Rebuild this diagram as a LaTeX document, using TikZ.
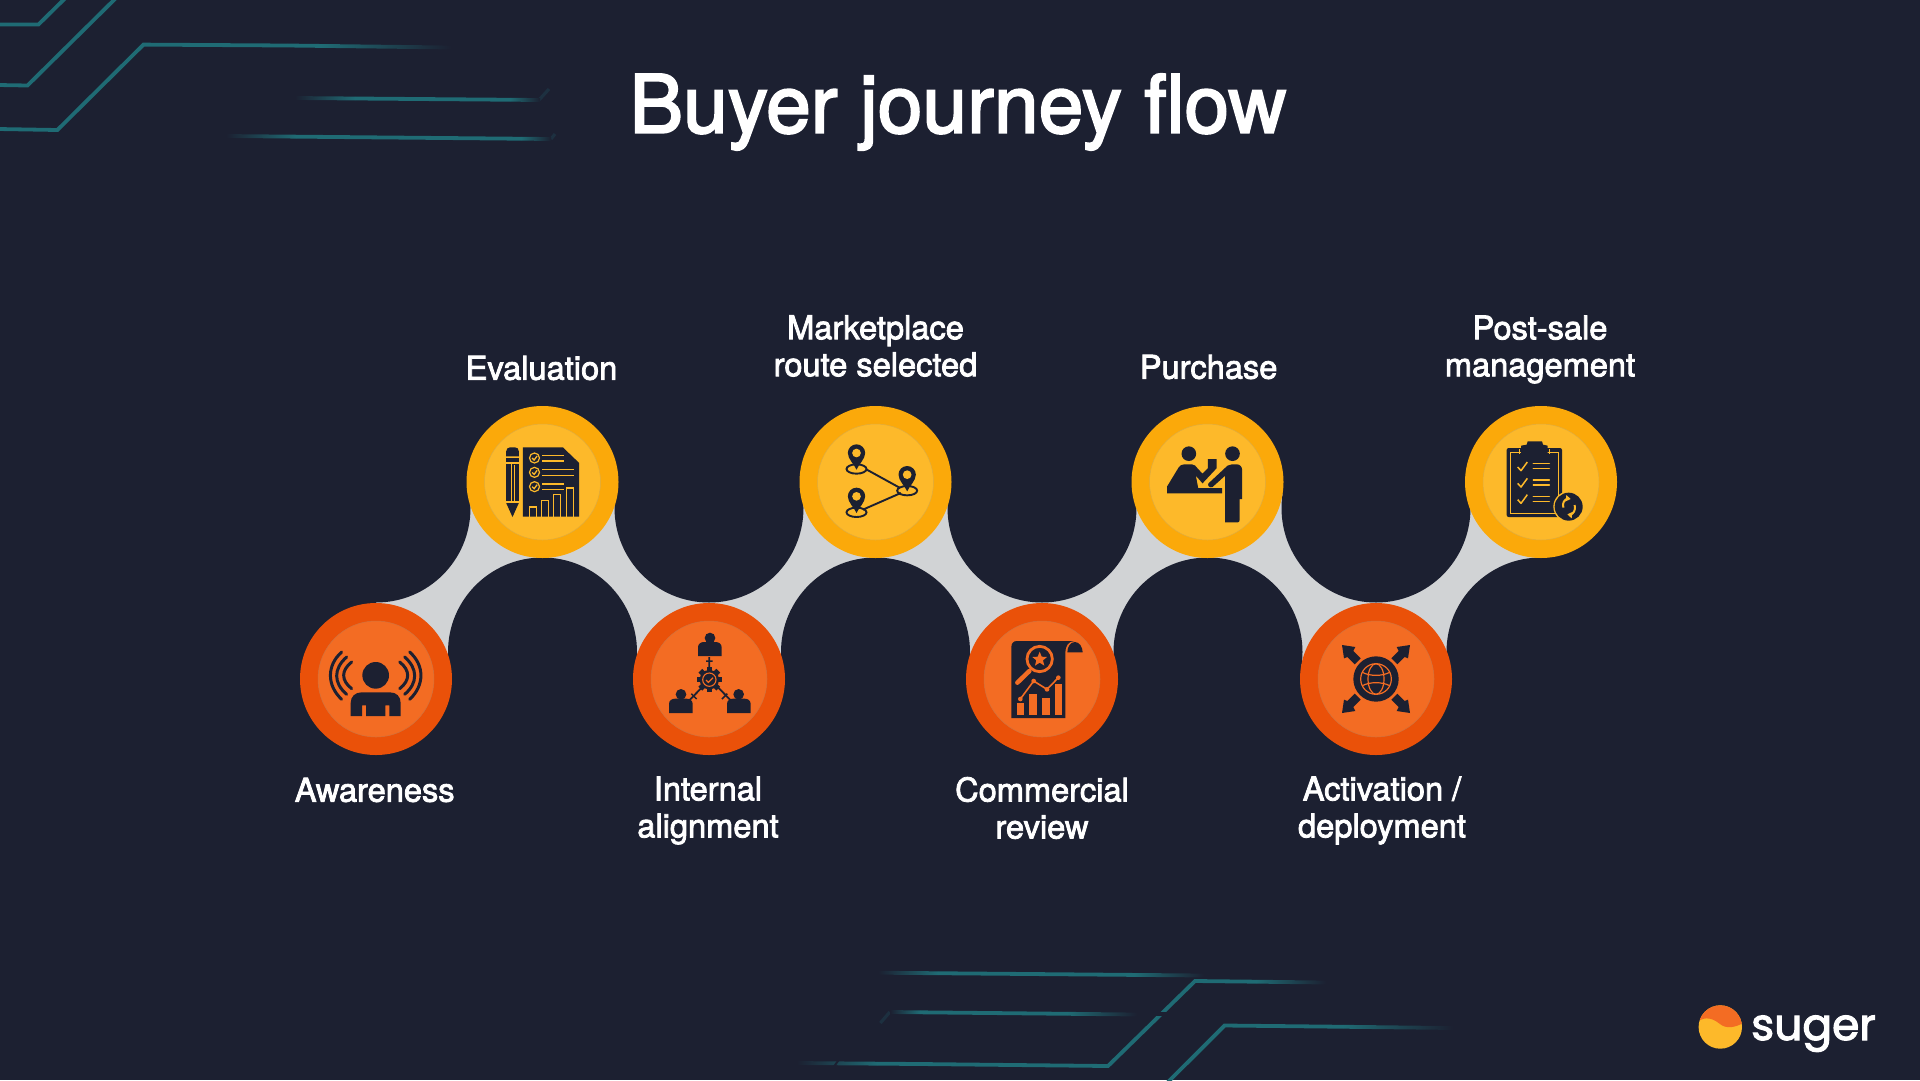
\documentclass[tikz,border=0pt]{standalone}
\usepackage{fontspec}
\setmainfont{TeX Gyre Heros}
\newfontfamily\medfont[FakeBold=2.5]{TeX Gyre Heros}
\newfontfamily\logofont[FakeBold=2.5]{Poppins}
\usetikzlibrary{calc}
\definecolor{bgc}{HTML}{1C2031}
\definecolor{greyc}{HTML}{D1D3D5}
\definecolor{orangeA}{HTML}{EA5109}
\definecolor{orangeB}{HTML}{F36C23}
\definecolor{yellowA}{HTML}{FBA90A}
\definecolor{yellowB}{HTML}{FDB92A}
\definecolor{tealc}{HTML}{1F6B74}
\tikzset{
  stepO/.style={circle,fill=orangeA,minimum size=152pt,inner sep=0pt,outer sep=0pt},
  stepY/.style={circle,fill=yellowA,minimum size=152pt,inner sep=0pt,outer sep=0pt},
  innerO/.style={circle,fill=orangeB,draw=orangeB!70!gray,line width=.5pt,minimum size=116pt,inner sep=0pt},
  innerY/.style={circle,fill=yellowB,draw=yellowB!75!gray,line width=.5pt,minimum size=116pt,inner sep=0pt},
  dip/.style={fill=bgc},
  band/.style={fill=greyc},
  lbl/.style={text=white,font=\medfont\fontsize{32.6}{37}\selectfont,align=center,inner sep=0pt},
  tline/.style={draw=tealc,line width=3.8pt,miter limit=10},
  tfaint/.style={draw=tealc!22!bgc,line width=3.2pt},
  zoomframe/.style n args={3}{shift={(#1.center)},x=.33333pt,y=-.33333pt,shift={(-#2,-#3)}},
  ink/.style={fill=bgc},
  inkl/.style={draw=bgc,line cap=round},
}
\newcommand\tband[6]{%
  \pgfmathsetmacro\tbxa{#1+#5}\pgfmathsetmacro\tbxb{#3-#6}%
  \pgfmathsetmacro\tbya{#2+(#4-#2)*#5/(#3-#1)}\pgfmathsetmacro\tbyb{#4-(#4-#2)*#6/(#3-#1)}%
  \ifdim#5pt>0pt \shade[left color=bgc,right color=tealc] (#1,#2-1.9)--(\tbxa,\tbya-1.9)--(\tbxa,\tbya+1.9)--(#1,#2+1.9)--cycle;\fi
  \fill[tealc] (\tbxa,\tbya-1.9)--(\tbxb,\tbyb-1.9)--(\tbxb,\tbyb+1.9)--(\tbxa,\tbya+1.9)--cycle;
  \ifdim#6pt>0pt \shade[left color=tealc,right color=bgc] (\tbxb,\tbyb-1.9)--(#3,#4-1.9)--(#3,#4+1.9)--(\tbxb,\tbyb+1.9)--cycle;\fi
}
\begin{document}
\begin{tikzpicture}[x=1pt,y=-1pt]
\useasboundingbox (0,0) rectangle (1920,1080);
\fill[bgc] (0,0) rectangle (1920,1080);
% decorative teal circuit lines
\draw[tline] (-2,24.5)--(38.5,24.5)--(65.4,-2);
\draw[tline] (-2,85)--(27.5,85.5)--(116,-2);
\draw[tline] (-2,129)--(57.4,130)--(143.5,44.6)--(287,45.5);
\tband{287}{45.5}{451}{47.5}{0}{130}
\draw[tfaint] (539,100)--(549,89);
\tband{295}{98}{540}{100}{60}{30}
\draw[tfaint] (551,139)--(555,134);
\tband{226}{136}{551}{139}{70}{30}
\tband{878}{972.7}{1204}{975.5}{60}{70}
\draw[tfaint] (880.4,1023)--(889.8,1012);
\tband{890}{1012}{1137}{1014.5}{30}{70}
\draw[tline] (1168,1082)--(1224.6,1025.5)--(1320,1026.5);
\tband{1320}{1026.5}{1453}{1028}{0}{110}
\tband{797}{1063}{920}{1064}{80}{0}
\draw[tline] (920,1064)--(1108,1066)--(1195,981)--(1240,981.5);
\tband{1240}{981.5}{1326}{982.5}{0}{70}
\fill[bgc] (1150,1012) rectangle (1175,1016);
\draw[bgc,line width=2pt] (833,1068)--(840,1058);
% nodes placement
\coordinate (u1) at (376,508); \coordinate (u2) at (709,508);
\coordinate (u3) at (1042,508); \coordinate (u4) at (1376,508);
\coordinate (d1) at (542.5,652); \coordinate (d2) at (875.5,652);
\coordinate (d3) at (1208,652); \coordinate (d4) at (1541,652);
\coordinate (pa) at (376,679); \coordinate (pb) at (542.5,482);
\coordinate (pc) at (709,679); \coordinate (pd) at (875.5,482);
\coordinate (pe) at (1042,679); \coordinate (pf) at (1207.5,482);
\coordinate (pg) at (1376,679); \coordinate (ph) at (1541,482);
% connecting band
\fill[band] (pa)--(u1)--(pb)--(d1)--cycle;
\fill[band] (pb)--(u2)--(pc)--(d1)--cycle;
\fill[band] (pc)--(u2)--(pd)--(d2)--cycle;
\fill[band] (pd)--(u3)--(pe)--(d2)--cycle;
\fill[band] (pe)--(u3)--(pf)--(d3)--cycle;
\fill[band] (pf)--(u4)--(pg)--(d3)--cycle;
\fill[band] (pg)--(u4)--(ph)--(d4)--cycle;
\foreach \c in {u1,u2,u3,u4,d1,d2,d3,d4} \fill[dip] (\c) circle [radius=94.5pt];
% step circles
\node[stepO] (awareness) at (pa) {}; \node[innerO] (awarenessIn) at (pa) {};
\node[stepY] (evaluation) at (pb) {}; \node[innerY] (evaluationIn) at (pb) {};
\node[stepO] (internal) at (pc) {}; \node[innerO] (internalIn) at (pc) {};
\node[stepY] (marketplace) at (pd) {}; \node[innerY] (marketplaceIn) at (pd) {};
\node[stepO] (commercial) at (pe) {}; \node[innerO] (commercialIn) at (pe) {};
\node[stepY] (purchase) at (pf) {}; \node[innerY] (purchaseIn) at (pf) {};
\node[stepO] (activation) at (pg) {}; \node[innerO] (activationIn) at (pg) {};
\node[stepY] (postsale) at (ph) {}; \node[innerY] (postsaleIn) at (ph) {};
% icon: awareness
\begin{scope}[zoomframe={awareness}{288}{866}]
\fill[ink] (287,855) circle (40);
\fill[ink] (212,977)--(212,938) .. controls (212,918) and (226,906) .. (245,906)--(330,906) .. controls (349,906) and (362,918) .. (362,938)--(362,977)--(328,977)--(328,945)--(316,945)--(316,977)--(258,977)--(258,945)--(246,945)--(246,977)--cycle;
\foreach \s in {0,1}{
\begin{scope}[shift={(\s*574,0)},xscale={1-2*\s}]
\draw[inkl,line width=3pt] (185,785) .. controls (140,825) and (140,885) .. (185,927);
\draw[inkl,line width=3pt] (200,800) .. controls (160,835) and (160,878) .. (200,912);
\draw[inkl,line width=3pt] (215,815) .. controls (183,840) and (183,870) .. (215,895);
\end{scope}}
\end{scope}
% icon: evaluation
\begin{scope}[zoomframe={evaluation}{787}{277}]
\fill[ink] (678,200)--(678,185) .. controls (678,177) and (684,173) .. (690,173)--(704,173) .. controls (711,173) and (716,177) .. (716,185)--(716,200)--cycle;
\fill[ink] (678,206) rectangle (716,217);
\fill[ink] (678,222) rectangle (692,335);
\fill[ink] (696,222) rectangle (716,335);
\fill[ink] (678,340)--(716,340)--(697,382)--cycle;
\fill[yellowB] (702,226) rectangle (703,335);
\fill[ink] (728,173)--(848,173)--(897,220)--(897,381)--(728,381)--cycle;
\foreach \y in {205,248,291}{
 \draw[yellowB,line width=1.2pt] (763,\y) circle (15);
 \draw[yellowB,line width=1.3pt] (756,\y)--(762,\y+6)--(771,\y-6);
}
\foreach \y/\e in {197/852,214/852,240/880,257/880,283/852,300/852}
 \draw[yellowB,line width=1.4pt] (786,\y)--(\e,\y);
\foreach \a/\t in {747/352,784/333,821/315,858/295}
 \draw[yellowB,line width=1.2pt] (\a,382)--(\a,\t)--(\a+21,\t)--(\a+21,382);
\end{scope}
% icon: internal
\begin{scope}[zoomframe={internal}{267}{866}]
\foreach \hx/\hy/\l/\r/\t/\b in {270/743/234/305/755/797,183/912/147/218/925/968,356/912/321/392/925/968}{
 \fill[ink] (\hx,\hy) circle (16);
 \fill[ink] (\l,\b)--(\l,\t+16) .. controls (\l,\t+6) and (\l+8,\t) .. (\l+18,\t)--(\r-18,\t) .. controls (\r-8,\t) and (\r,\t+6) .. (\r,\t+16)--(\r,\b)--cycle;
}
\draw[bgc,line width=1.8pt] (268,800)--(268,835) (208,930)--(245,892) (295,892)--(332,930);
\draw[bgc,line width=1.5pt] (258,812)--(278,812) (214,910)--(230,926) (306,926)--(322,910);
\foreach \a in {0,45,...,315} \fill[ink,rotate around={\a:(268,868)}] (260,830) rectangle (276,845);
\fill[ink] (268,868) circle (29);
\draw[orangeB,line width=1.1pt] (268,868) circle (20);
\draw[orangeB,line width=1.2pt] (258,869)--(265,876)--(279,862);
\end{scope}
% icon: marketplace
\begin{scope}[zoomframe={marketplace}{766}{277}]
\draw[bgc,line width=1.9pt] (740,240)--(840,295) (728,360)--(842,310);
\foreach \px/\py in {709/190,861/255,709/320}{
 \draw[bgc,line width=1.9pt] (\px,\py+48) ellipse [x radius=30,y radius=14];
 \fill[ink] (\px,\py+50) .. controls (\px-6,\py+35) and (\px-26,\py+18) .. (\px-26,\py) arc [start angle=180,end angle=360,radius=26] .. controls (\px+26,\py+18) and (\px+6,\py+35) .. (\px,\py+50)--cycle;
 \fill[yellowB] (\px,\py) circle (13);
}
\end{scope}
% icon: commercial
\begin{scope}[zoomframe={commercial}{246}{866}]
\fill[ink] (154,770) .. controls (154,760) and (160,752) .. (170,752)--(343,752) .. controls (325,752) and (316,768) .. (316,786)--(316,983)--(154,983)--cycle;
\fill[ink] (322,786) .. controls (322,768) and (332,755) .. (345,755) .. controls (358,755) and (368,770) .. (368,786)--cycle;
\draw[orangeB,line width=2.8pt] (239,806) circle (38);
\fill[orangeB] (239,784)--(245,799)--(261,800)--(249,810)--(253,826)--(239,817)--(225,826)--(229,810)--(217,800)--(233,799)--cycle;
\draw[orangeB,line width=4.5pt,line cap=round] (208,842)--(172,877);
\draw[orangeB,line width=1.6pt] (181,926)--(221,872)--(261,897)--(295,862);
\foreach \x/\y in {181/926,221/872,261/897,295/862} \fill[orangeB] (\x,\y) circle (7);
\foreach \x/\w/\t in {171/22/938,208/24/910,247/22/922,284/22/880} \fill[orangeB] (\x,\t) rectangle (\x+\w,973);
\end{scope}
% icon: purchase
\begin{scope}[zoomframe={purchase}{742}{277}]
\fill[ink] (686,192) circle (22);
\fill[ink] (817,192) circle (22);
\fill[ink] (621,311)--(621,290)--(655,234) .. controls (660,227) and (665,224) .. (672,224)--(695,224) .. controls (703,224) and (708,230) .. (712,236)--(727,252)--(743,236)--(743,208)--(769,208)--(769,236)--(727,281)--(707,258)--(714,295)--(786,295)--(786,311)--cycle;
\fill[ink] (795,398) -- (795,258)--(757,292) .. controls (750,296) and (740,288) .. (745,281)--(802,228) .. controls (806,225) and (810,224) .. (815,224)--(830,224) .. controls (840,224) and (846,232) .. (846,242)--(846,328)--(838,328)--(838,392) .. controls (838,396) and (836,398) .. (832,398)--cycle;
\end{scope}
% icon: activation
\begin{scope}[zoomframe={activation}{258}{870}]
\fill[ink] (258,870) circle (68);
\draw[orangeB,line width=1.2pt] (258,870) circle (46);
\draw[orangeB,line width=1.2pt] (258,870) ellipse [x radius=24,y radius=46];
\draw[orangeB,line width=1.2pt] (217,850) .. controls (240,862) and (276,862) .. (299,850);
\draw[orangeB,line width=1.2pt] (217,890) .. controls (240,878) and (276,878) .. (299,890);
\foreach \sx/\sy in {1/1,-1/1,1/-1,-1/-1}{
\begin{scope}[shift={(258,870)},xscale=\sx,yscale=\sy]
\fill[ink] (102,-102)--(62,-96)--(68,-84)--(46,-62)--(64,-44)--(86,-66)--(96,-62)--cycle;
\end{scope}}
\end{scope}
% icon: post-sale
\begin{scope}[zoomframe={postsale}{755}{277}]
\fill[ink,rounded corners=2pt] (652,175) rectangle (818,382);
\draw[yellowB,line width=1.1pt] (664,188) rectangle (807,372);
\fill[ink] (695,190)--(695,168)--(712,165)--(715,155)--(758,155)--(761,165)--(775,168)--(775,190)--cycle;
\draw[yellowB,line width=1pt] (690,192)--(690,178) (780,192)--(780,178);
\foreach \d in {0,49,98}{
 \draw[yellowB,line width=1.5pt,line join=round] (685,232+\d)--(695,243+\d)--(714,217+\d);
 \draw[yellowB,line width=1.5pt,line cap=round] (732,222+\d)--(780,222+\d) (732,237+\d)--(780,237+\d);
}
\fill[yellowB] (838,351) circle (46);
\fill[ink] (838,351) circle (42);
\draw[yellowB,line width=2pt] (822,354) .. controls (818,338) and (826,330) .. (836,326);
\fill[yellowB] (831,316)--(844,328)--(829,335)--cycle;
\draw[yellowB,line width=2pt] (856,346) .. controls (860,362) and (852,372) .. (842,376);
\fill[yellowB] (847,386)--(834,374)--(849,367)--cycle;
\end{scope}
% labels
\node[lbl] (tAwareness) at (374.7,790) {Awareness};
\node[lbl] (tEvaluation) at (541.5,368) {Evaluation};
\node[lbl] (tInternal) at (708,810.5) {Internal\\alignment};
\node[lbl] (tMarketplace) at (875.5,346) {Marketplace\\route selected};
\node[lbl] (tCommercial) at (1042,808) {Commercial\\review};
\node[lbl] (tPurchase) at (1208.6,367) {Purchase};
\node[lbl] (tActivation) at (1382,810.5) {Activation /\\deployment};
\node[lbl] (tPostsale) at (1540,349.5) {Post-sale\\management};
\node[text=white,font=\medfont\fontsize{80.4}{90}\selectfont,inner sep=0pt] (title) at (958,112) {Buyer journey flow};
% logo
\begin{scope}
\clip (1720.3,1027) circle [radius=21.7pt];
\fill[yellowB] (1695,1000) rectangle (1745,1055);
\fill[orangeB] (1695,1024) .. controls (1702,1017) and (1710,1016) .. (1720,1024) .. controls (1726,1029) and (1735,1028) .. (1745,1022)--(1745,1000)--(1695,1000)--cycle;
\end{scope}
\node[text=white,font=\logofont\fontsize{44}{50}\selectfont,inner sep=0pt,anchor=base west] (logotext) at (1751,1040) {suger};
\end{tikzpicture}
\end{document}
